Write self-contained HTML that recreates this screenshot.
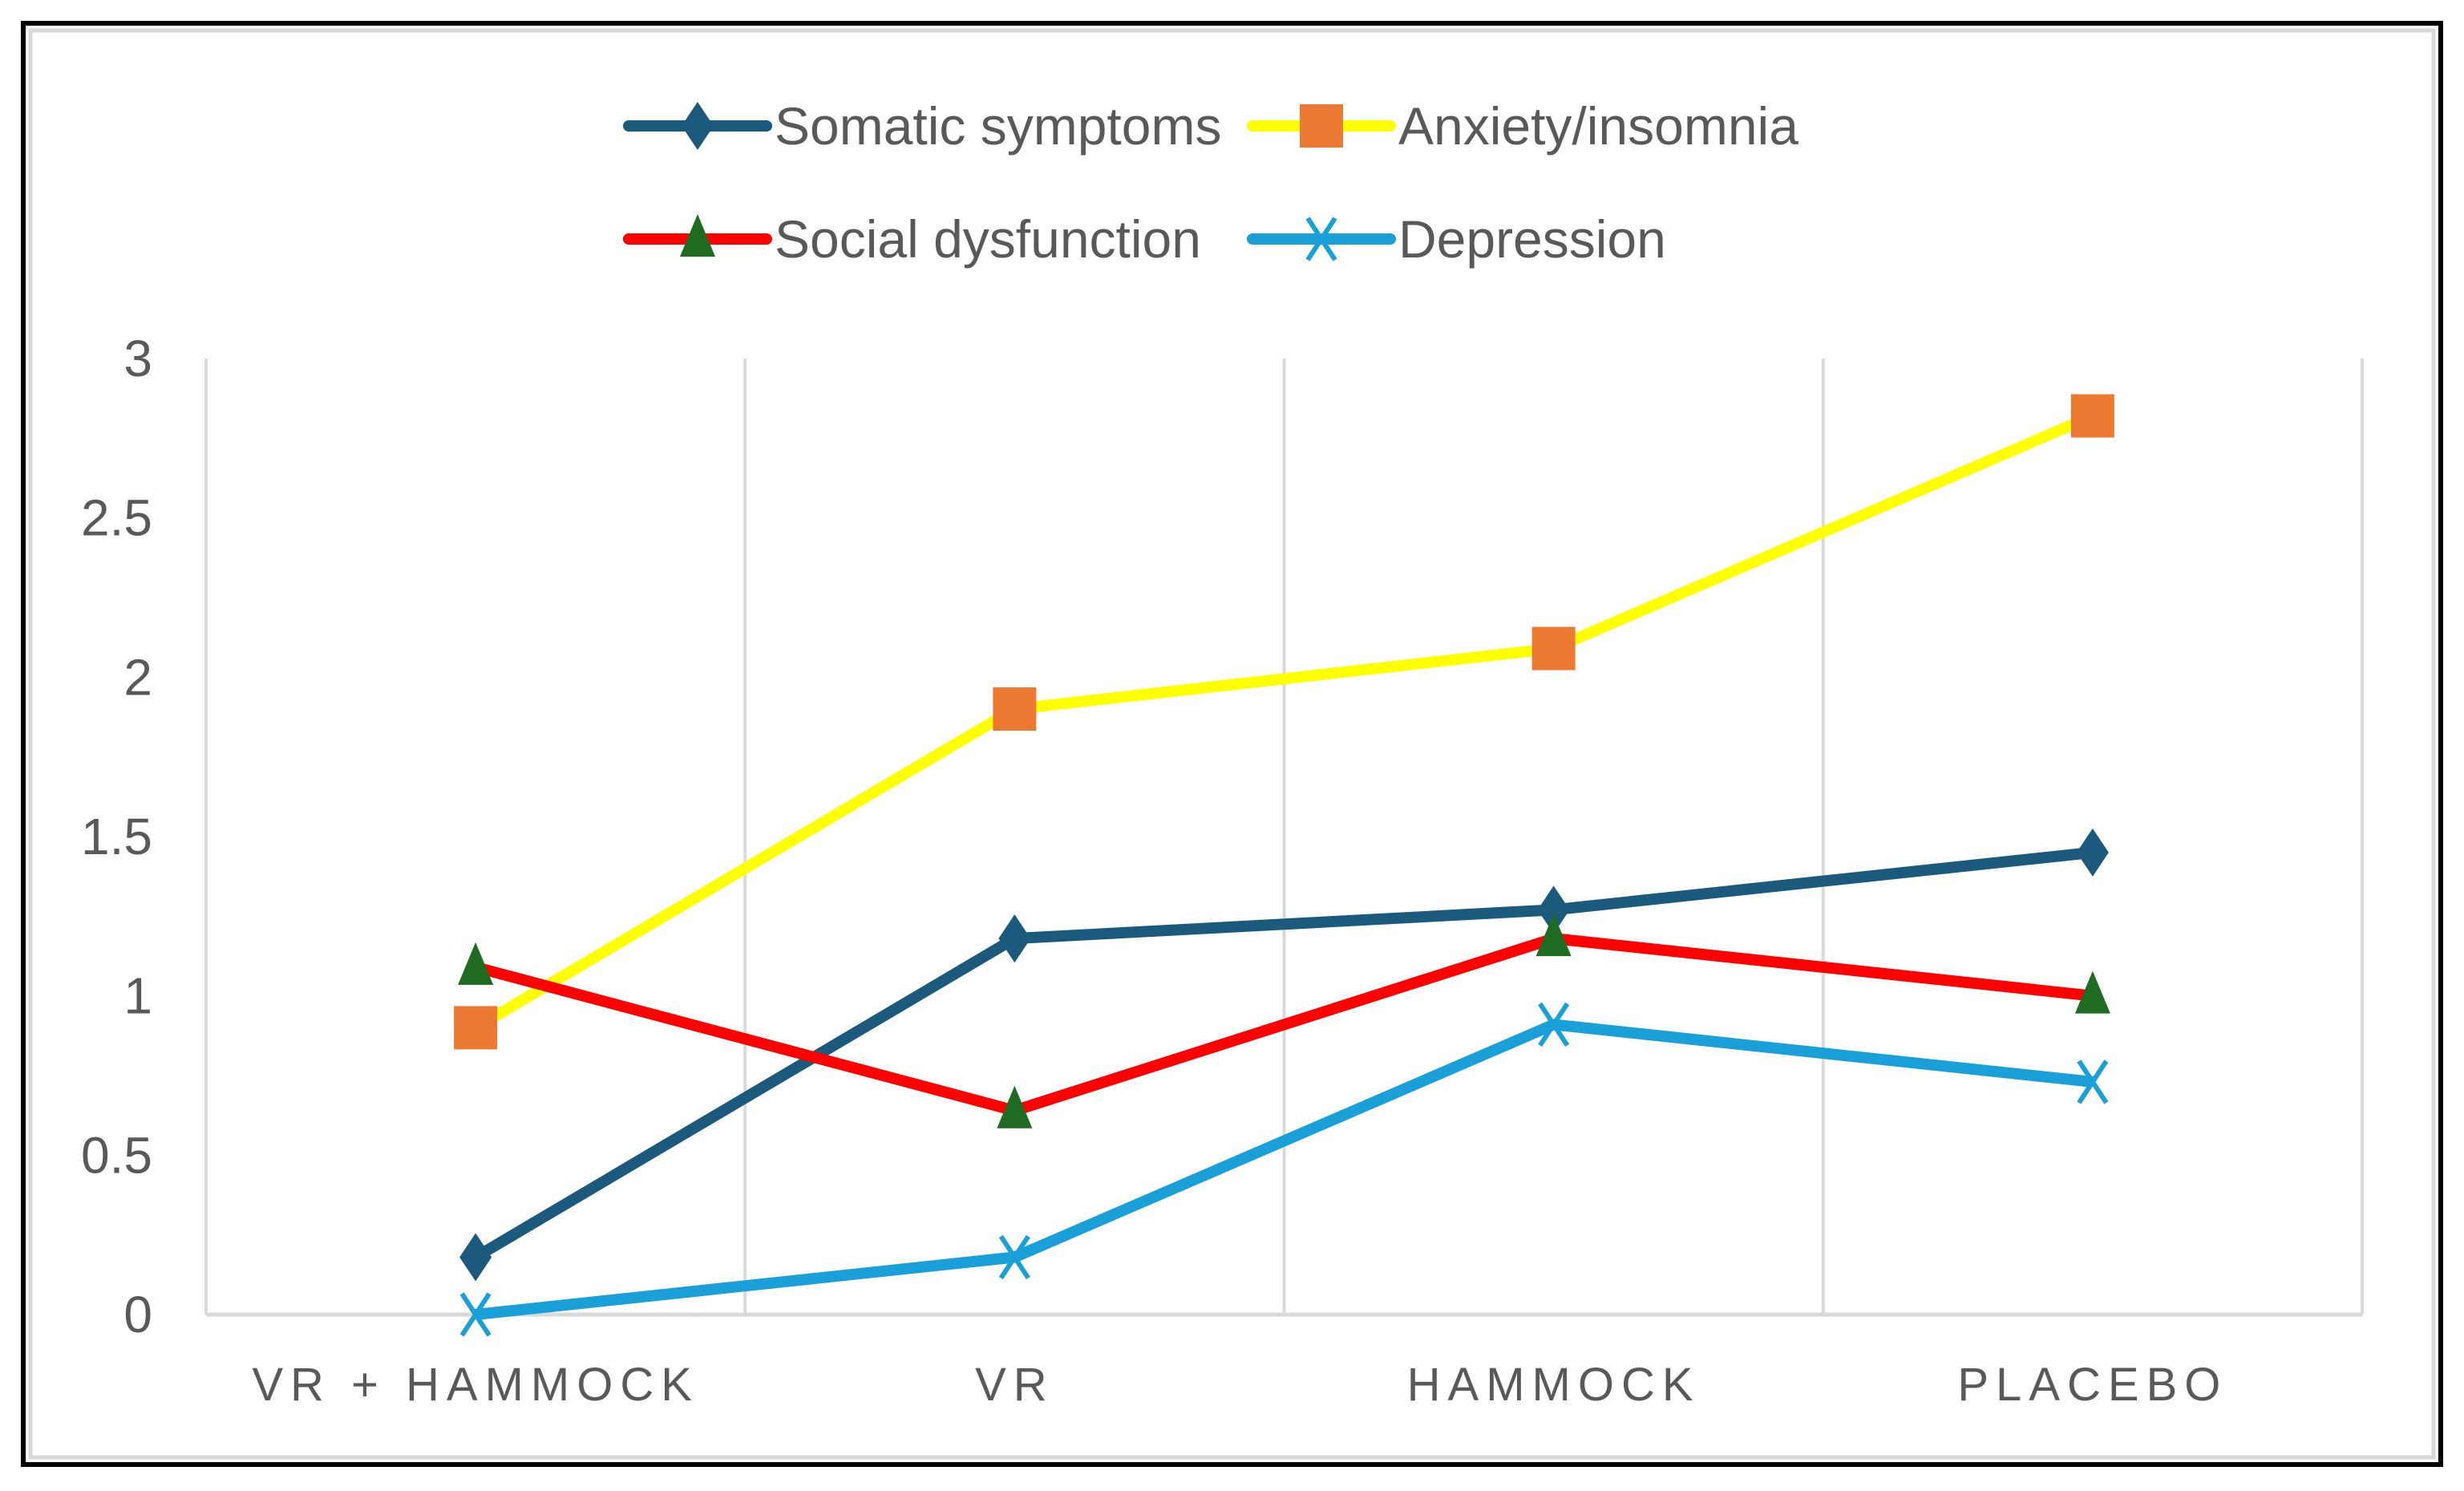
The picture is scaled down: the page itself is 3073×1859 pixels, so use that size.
<!DOCTYPE html>
<html><head><meta charset="utf-8">
<style>
html,body{margin:0;padding:0;background:#fff;}
body{width:3073px;height:1854px;overflow:hidden;position:relative;font-family:"Liberation Sans Narrow","Liberation Sans",sans-serif;}
</style></head>
<body>
<svg id="chart" width="3073" height="1854" xmlns="http://www.w3.org/2000/svg">
  <rect x="29" y="29" width="3015" height="1797" fill="#fff" stroke="#000" stroke-width="6"/>
  <rect x="38" y="38" width="2997" height="1779" fill="none" stroke="#d9d9d9" stroke-width="5"/>
  <g id="grid"></g>
  <g id="axes"></g>
  <g id="series"></g>
  <g id="legend"></g>
</svg>
<script>
const categories = ["VR + HAMMOCK", "VR", "HAMMOCK", "PLACEBO"];
const yTicks = [0, 0.5, 1, 1.5, 2, 2.5, 3];
const yTickLabels = ["0", "0.5", "1", "1.5", "2", "2.5", "3"];
const somatic = [0.18, 1.18, 1.27, 1.45];
const anxiety = [0.90, 1.90, 2.09, 2.82];
const social = [1.09, 0.64, 1.18, 1.00];
const depression = [0.00, 0.18, 0.91, 0.73];
const seriesNames = ["Somatic symptoms", "Anxiety/insomnia", "Social dysfunction", "Depression"];

const NS = "http://www.w3.org/2000/svg";
const plotL = 257, plotR = 2946, plotT = 447, plotB = 1639, yMax = 3;
const band = (plotR - plotL) / categories.length;
function xScale(i){ return plotL + band * (i + 0.5); }
function yScale(v){ return plotB - (v / yMax) * (plotB - plotT); }
function mk(tag, attrs, parent){ const e = document.createElementNS(NS, tag); for (const k in attrs) e.setAttribute(k, attrs[k]); parent.appendChild(e); return e; }

const grid = document.getElementById('grid');
for (let i = 0; i <= categories.length; i++) {
  const x = plotL + band * i;
  const g = mk('line', {x1:x, x2:x, y1:plotT, y2:plotB, stroke:'#d9d9d9', 'stroke-width':4}, grid);
  
  
}
const axes = document.getElementById('axes');
const xa = mk('line', {x1:plotL, x2:plotR, y1:plotB, y2:plotB, stroke:'#d9d9d9', 'stroke-width':5}, axes);


yTicks.forEach((v, i) => {
  const t = mk('text', {x:190, y:yScale(v) + 22, 'text-anchor':'end', 'font-size':64, fill:'#595959'}, axes);
  t.textContent = yTickLabels[i];
  
  
});
categories.forEach((c, i) => {
  const t = mk('text', {x:xScale(i), y:1746, 'text-anchor':'middle', 'font-size':58, fill:'#595959', 'letter-spacing':9}, axes);
  t.textContent = c;
  
  
});

function marker(type, x, y, parent, color){
  let m;
  if (type === 'diamond') m = mk('polygon', {points:`${x},${y-30} ${x+20},${y} ${x},${y+30} ${x-20},${y}`, fill:color}, parent);
  else if (type === 'square') m = mk('rect', {x:x-27, y:y-27, width:54, height:54, fill:color}, parent);
  else if (type === 'triangle') m = mk('polygon', {points:`${x},${y-31} ${x+22},${y+22} ${x-22},${y+22}`, fill:color}, parent);
  else { m = mk('path', {d:`M${x-17},${y-26}L${x+17},${y+26}M${x+17},${y-26}L${x-17},${y+26}`, stroke:color, 'stroke-width':6, fill:'none'}, parent); }
  return m;
}
const defs = [
  {vals:somatic, line:'#1b5a7d', mc:'#1b5a7d', m:'diamond', name:'somatic-symptoms'},
  {vals:anxiety, line:'#ffff00', mc:'#ec7a33', m:'square', name:'anxiety-insomnia'},
  {vals:social, line:'#ff0000', mc:'#1f6b21', m:'triangle', name:'social-dysfunction'},
  {vals:depression, line:'#1aa0d9', mc:'#1aa0d9', m:'x', name:'depression'}
];
const sg = document.getElementById('series');
defs.forEach(d => {
  const g = mk('g', {}, sg);
  
  
  const pts = d.vals.map((v, i) => xScale(i) + ',' + yScale(v)).join(' ');
  const pl = mk('polyline', {points:pts, fill:'none', stroke:d.line, 'stroke-width':14, 'stroke-linejoin':'round'}, g);
  
  
  d.vals.forEach((v, i) => {
    const m = marker(d.m, xScale(i), yScale(v), g, d.mc);
    
    
  });
});

const lg = document.getElementById('legend');
const legPos = [[784, 157], [1562, 157], [784, 298], [1562, 298]];
defs.forEach((d, i) => {
  const [x, y] = legPos[i];
  const g = mk('g', {}, lg);
  
  
  mk('line', {x1:x, x2:x+172, y1:y, y2:y, stroke:d.line, 'stroke-width':14, 'stroke-linecap':'round'}, g);
  marker(d.m, x+86, y, g, d.mc);
  const t = mk('text', {x:x+182, y:y+23, 'font-size':66, fill:'#595959'}, g);
  t.textContent = seriesNames[i];
  
  
});
</script>
</body></html>
